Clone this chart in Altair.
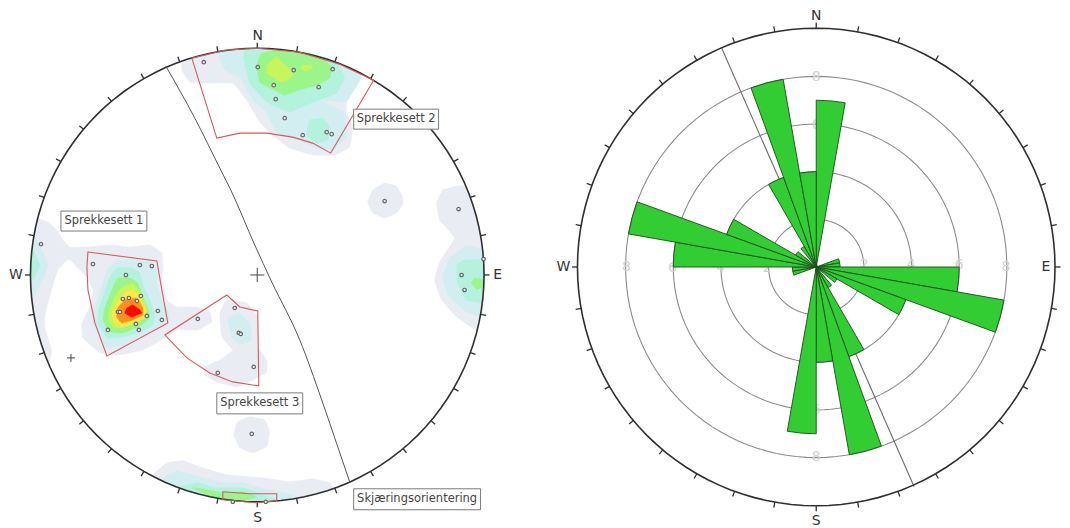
import math
import altair as alt
import pandas as pd

# ---- stereonet (left) values, x/y in picture pixels
NET_C = (257.5, 275.0)
NET_R = 227.0
ROSE_C = (817.0, 267.0)
ROSE_R = 239.0

PALE = "#e9edf3"
CYAN = "#d3eef1"
MINT = "#b3f2dc"
GREEN = "#9af58a"
YGREEN = "#c6f55c"
YELLOW = "#ffe84a"
ORANGE = "#ff8f1f"
RED = "#fb0a0a"

pale_polys = [
    [(37,219),(48,222),(57,230),(63,240),(70,247),(85,247),(110,245),(130,247),(150,245),(162,253),(163,267),(162,280),(167,300),(177,307),(197,307),(210,312),(212,322),(198,330),(177,330),(167,337),(143,350),(120,355),(100,353),(83,338),(82,323),(90,307),(93,290),(87,277),(70,260),(67,260),(58,270),(53,285),(45,315),(45,328),(50,345),(52,352),(48,363),(40,340),(33,310),(30,275),(33,240)],
    [(227,300),(247,303),(258,317),(258,347),(267,360),(267,372),(253,380),(237,387),(217,382),(205,375),(205,367),(220,360),(233,350),(222,337),(220,313)],
    [(458,186),(443,190),(437,203),(440,220),(455,238),(440,262),(435,280),(442,300),(457,317),(477,330),(481,312),(484,275),(483,250),(478,220),(472,200),(466,186)],
    [(385,183),(397,186),(403,197),(403,205),(397,213),(385,218),(373,213),(368,202),(373,190)],
    [(250,417),(265,420),(270,432),(267,447),(253,453),(240,448),(234,435),(238,422)],
    [(153,475),(167,463),(183,461),(203,468),(227,475),(263,478),(290,482),(313,479),(330,483),(333,489),(300,498),(257,502),(220,499),(185,490),(153,477)],
    [(182,63),(192,58),(225,50),(258,48),(300,52),(340,64),(360,73),(353,92),(347,100),(347,112),(353,127),(350,147),(335,155),(313,155),(290,148),(273,135),(260,122),(247,100),(233,83),(203,83),(190,82),(182,70)],
]
cyan_polys = [
    [(118,260),(135,260),(150,262),(158,270),(157,283),(160,295),(167,308),(170,318),(167,323),(148,332),(125,345),(107,348),(100,337),(93,325),(92,313),(97,302),(103,282),(108,268)],
    [(228,318),(240,313),(250,323),(252,340),(240,345),(232,337)],
    [(34,237),(42,250),(48,265),(43,280),(33,296),(30,275)],
    [(467,246),(450,258),(443,277),(448,295),(467,312),(482,316),(484,275),(483,250)],
    [(163,478),(177,471),(193,475),(223,483),(243,483),(270,490),(293,495),(293,499),(257,502),(220,499),(190,491),(163,481)],
    [(218,52),(225,70),(240,77),(253,100),(267,113),(277,133),(290,137),(317,148),(333,150),(347,137),(345,112),(323,101),(347,101),(362,77),(357,71),(300,52),(258,48)],
]
mint_polys = [
    [(117,268),(132,268),(140,273),(143,285),(150,300),(155,315),(153,325),(138,333),(118,338),(107,338),(98,323),(99,308),(105,292),(110,277)],
    [(33,250),(40,265),(33,280),(30,265)],
    [(465,260),(457,265),(458,283),(467,300),(483,302),(484,275),(483,260)],
    [(180,487),(197,483),(217,488),(243,488),(263,495),(277,500),(257,502),(220,499),(195,493)],
    [(245,50),(245,63),(250,83),(267,102),(290,112),(313,102),(337,93),(345,77),(337,62),(325,57),(300,52)],
    [(310,120),(323,118),(330,127),(328,140),(317,143),(307,135)],
]
green_polys = [
    [(118,278),(130,278),(138,283),(142,295),(148,308),(150,318),(138,327),(122,333),(110,332),(103,320),(105,308),(110,295),(115,283)],
    [(475,278),(472,283),(477,289),(484,287),(484,280)],
    [(193,488),(207,490),(223,493),(243,492),(257,497),(243,501),(223,499),(210,496)],
    [(262,53),(257,65),(260,82),(275,90),(285,95),(298,90),(317,85),(330,78),(332,67),(325,60),(310,53),(295,52),(277,50)],
]
ygreen_polys = [
    [(123,287),(133,283),(140,292),(147,307),(147,317),(137,323),(122,328),(113,327),(108,317),(112,303),(118,292)],
    [(277,56),(267,65),(267,73),(282,82),(292,77),(292,70),(282,62)],
    [(302,65),(312,65),(313,68),(305,71),(301,68)],
]
yellow_polys = [[(125,293),(133,290),(138,295),(146,310),(143,318),(135,322),(122,327),(115,323),(112,315),(117,303)]]
orange_polys = [[(125,300),(137,298),(143,308),(143,315),(133,320),(122,323),(117,317),(118,308)]]
red_polys = [[(127,308),(133,305),(140,310),(142,313),(132,317),(125,313)]]

sector_lines = [
    [(88,252),(157,261),(162,290),(168,323),(107,356),(95,323),(88,290),(87,267)],
    [(227,295),(240,307),(258,311),(259,386),(233,382),(210,373),(187,358),(165,335)],
    [(192,58),(217,138),(240,133),(267,133),(293,137),(313,143),(331,153),(374,80),(340,64),(300,52),(258,48),(225,50)],
    [(223,492),(250,494),(277,494),(277,501),(257,503),(223,500)],
]

pole_x = [41,93,126,140,152,141,129,123,137,118,120,147,158,162,136,139,108,198,235,239,241,254,218,
          204,258,294,333,274,319,276,285,303,327,332,385,459,484,462,465,252,233,266]
pole_y = [244,264,275,265,266,296,298,299,301,312,312,316,311,320,324,330,330,319,308,333,334,367,373,
          62,67,70,69,85,87,99,118,135,132,134,201,209,259,275,290,434,502,502]

cut_x = [166,195,221,231,255,272,300,322,335,350]
cut_y = [66,118,170,190,245,282,340,400,438,482]

box_text = ["Sprekkesett 1","Sprekkesett 2","Sprekkesett 3","Skjæringsorientering"]
box_x0 = [61,354,217,354]
box_x1 = [147,439,303,481]
box_y0 = [211,109,393,489]
box_y1 = [231,129,414,510]

# ---- rose diagram (right)
rose_start = [0,70,80,90,100,110,120,140,150,160,170,180,250,260,270,280,290,300,320,330,340,350]
rose_count = [7,1,1,6,8,4,1,1,4,8,4,7,1,1,6,8,4,1,1,4,8,4]
rose_width = 10
ring_values = [2,4,6,8]
ring_unit = 23.85
ring_lab_x = [865,912,960,1007,768,721,673,627,817,817,817,817]
ring_lab_y = [265,265,265,267,268,268,268,267,77,125,410,457]
ring_lab_t = ["2","4","6","8","2","4","6","8","8","6","6","8"]
rose_line_x = [722,915]
rose_line_y = [47,487]

compass = ["N","E","S","W"]
net_lab_x = [258,498,258,16]
net_lab_y = [36,275,518,275]
rose_lab_x = [817,1047,817,564]
rose_lab_y = [16,267,521,267]


def circle_df(c, r):
    a = [math.radians(i) for i in range(0, 361, 3)]
    return pd.DataFrame({"x": [c[0] + r * math.sin(t) for t in a],
                         "y": [c[1] - r * math.cos(t) for t in a],
                         "i": range(len(a))})


def ticks_df(c, r, n=5.5):
    rows = []
    for az in range(0, 360, 10):
        t = math.radians(az)
        rows.append({"x": c[0] + r * math.sin(t), "y": c[1] - r * math.cos(t),
                     "x2": c[0] + (r + n) * math.sin(t), "y2": c[1] - (r + n) * math.cos(t)})
    return pd.DataFrame(rows)


def polys_df(polys):
    return pd.DataFrame([{"p": k, "i": i, "x": x, "y": y}
                         for k, poly in enumerate(polys) for i, (x, y) in enumerate(poly)])


def panel(x0, x1):
    xs = alt.Scale(domain=[x0, x1], nice=False, zero=False)
    ys = alt.Scale(domain=[528, 8], nice=False, zero=False)
    return alt.X("x:Q", scale=xs, axis=None), alt.Y("y:Q", scale=ys, axis=None), xs, ys


def line_layer(df, X, Y, **kw):
    return alt.Chart(df).mark_line(**kw).encode(x=X, y=Y, order="i:Q")


def circle_layers(c, r, X, Y):
    return [
        line_layer(circle_df(c, r), X, Y, color="#2f2f2f", strokeWidth=1.6),
        alt.Chart(ticks_df(c, r)).mark_rule(color="#2f2f2f", strokeWidth=1.3).encode(
            x=X, y=Y, x2="x2:Q", y2="y2:Q"),
    ]


def compass_layer(xs_, ys_, X, Y):
    df = pd.DataFrame({"x": xs_, "y": ys_, "t": compass})
    return alt.Chart(df).mark_text(font="DejaVu Sans", fontSize=14, color="#333333").encode(x=X, y=Y, text="t:N")


# LEFT PANEL
X, Y, xs, ys = panel(8, 528)
left = []
for color, polys in [(PALE, pale_polys), (CYAN, cyan_polys), (MINT, mint_polys), (GREEN, green_polys),
                     (YGREEN, ygreen_polys), (YELLOW, yellow_polys), (ORANGE, orange_polys), (RED, red_polys)]:
    left.append(alt.Chart(polys_df(polys)).mark_line(
        fill=color, stroke=color, strokeWidth=0.5, interpolate="cardinal-closed", tension=0.75
    ).encode(x=X, y=Y, detail="p:N", order="i:Q"))
left += circle_layers(NET_C, NET_R, X, Y)
left.append(alt.Chart(polys_df(sector_lines)).mark_line(
    color="#d9595c", strokeWidth=1.1, interpolate="linear-closed"
).encode(x=X, y=Y, detail="p:N", order="i:Q"))
left.append(line_layer(pd.DataFrame({"x": cut_x, "y": cut_y, "i": range(len(cut_x))}), X, Y,
                       color="#555555", strokeWidth=1, interpolate="monotone"))
left.append(alt.Chart(pd.DataFrame({"x": pole_x, "y": pole_y})).mark_point(
    size=12, filled=True, fill="#eeeeee", stroke="#666666", strokeWidth=1.2, opacity=1
).encode(x=X, y=Y))
left.append(alt.Chart(pd.DataFrame({"x": [NET_C[0], 71], "y": [NET_C[1], 358], "s": [196, 64]})).mark_point(
    shape="M-1,0L1,0M0,-1L0,1", stroke="#444444", strokeWidth=1, opacity=1
).encode(x=X, y=Y, size=alt.Size("s:Q", scale=None, legend=None)))
boxes = pd.DataFrame({"x": box_x0, "x2": box_x1, "y": box_y0, "y2": box_y1, "t": box_text})
boxes["mx"] = (boxes.x + boxes.x2) / 2
boxes["my"] = (boxes.y + boxes.y2) / 2
left.append(alt.Chart(boxes).mark_rect(fill="#ffffff", stroke="#7a7a7a", strokeWidth=1).encode(
    x=X, y=Y, x2="x2:Q", y2="y2:Q"))
left.append(alt.Chart(boxes).mark_text(font="DejaVu Sans", fontSize=11.5, color="#444444").encode(
    x=alt.X("mx:Q", scale=xs, axis=None), y=alt.Y("my:Q", scale=ys, axis=None), text="t:N"))
left.append(compass_layer(net_lab_x, net_lab_y, X, Y))
left_chart = alt.layer(*left).properties(width=520, height=520)

# RIGHT PANEL (ends at the page's right margin)
X, Y, xs, ys = panel(528, 1062)
right = []
for v in ring_values:
    right.append(line_layer(circle_df(ROSE_C, v * ring_unit), X, Y, color="#8c8c8c", strokeWidth=1.1))
right.append(alt.Chart(pd.DataFrame({"x": ring_lab_x, "y": ring_lab_y, "t": ring_lab_t})).mark_text(
    font="DejaVu Sans", fontSize=14, color="#d2d2d2").encode(x=X, y=Y, text="t:N"))
right.append(line_layer(pd.DataFrame({"x": rose_line_x, "y": rose_line_y, "i": [0, 1]}), X, Y,
                        color="#6a6a6a", strokeWidth=1.1))
rose = pd.DataFrame({"a0": rose_start, "n": rose_count})
rose["a1"] = rose.a0 + rose_width
rose["x"] = ROSE_C[0]
rose["y"] = ROSE_C[1]
right.append(alt.Chart(rose).mark_arc(fill="#32cd32", stroke="#1b4d1b", strokeWidth=0.9).encode(
    x=X, y=Y,
    theta=alt.Theta("a0:Q", scale=alt.Scale(domain=[0, 360], range=[0, 2 * math.pi]), stack=None),
    theta2="a1:Q",
    radius=alt.Radius("n:Q", scale=alt.Scale(type="linear", domain=[0, 8], range=[0, 8 * ring_unit])),
    radius2=alt.value(0),
))
right += circle_layers(ROSE_C, ROSE_R, X, Y)
right.append(compass_layer(rose_lab_x, rose_lab_y, X, Y))
right_chart = alt.layer(*right).properties(width=534, height=520)

chart = alt.hconcat(left_chart, right_chart, spacing=0, padding=0).configure_view(stroke=None)
chart.save("out.html", embed_options={"renderer": "svg", "actions": False})
